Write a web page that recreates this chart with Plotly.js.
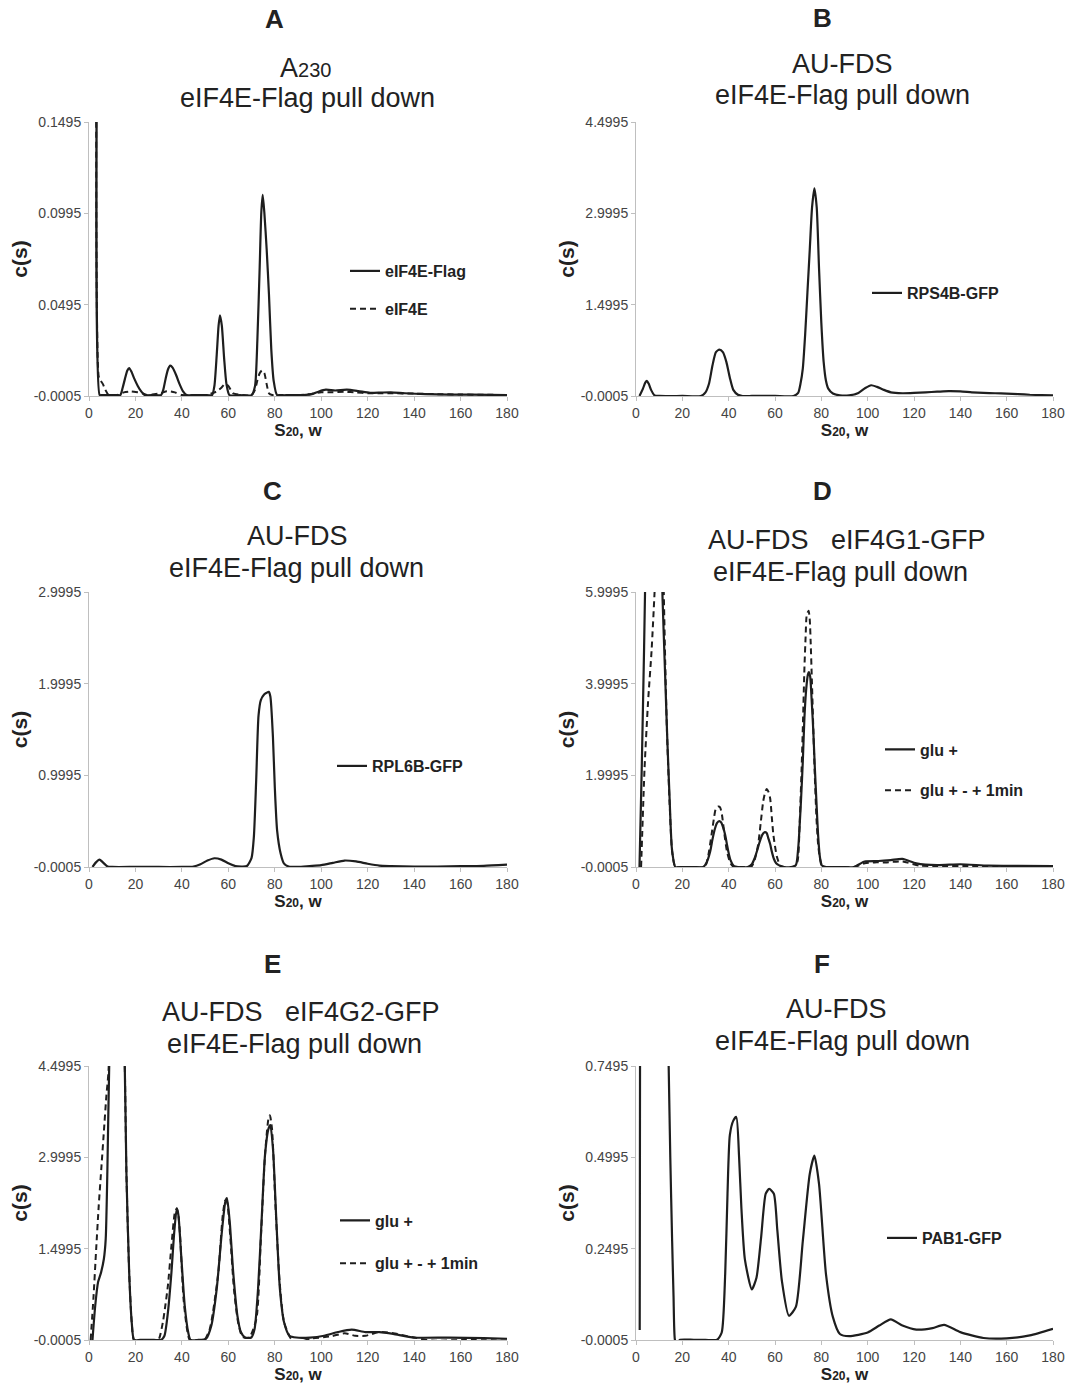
<!DOCTYPE html>
<html>
<head>
<meta charset="utf-8">
<script src="https://cdn.plot.ly/plotly-3.0.1.min.js"></script>
<style>html,body{margin:0;padding:0;background:#fff}</style>
</head>
<body>
<div id="chart" style="width:1079px;height:1385px"></div>
<script>
// ---------- DATA ----------
var xTickLabels = ['0','20','40','60','80','100','120','140','160','180'];

// Panel A (A230)
var aYTickLabels = ['-0.0005','0.0495','0.0995','0.1495'];
var aX_flag = [2,4,4.6,5.5,8,12,13.5,14.5,15.5,16.5,17.3,18.2,19.5,21,22.5,24,28,31,32,33,34,35,36,37.5,39,40.5,42,46,50,53,54,55,55.8,56.4,57.2,58.2,59.2,60.5,65,70,71.5,72.5,73.5,74.2,74.8,75.5,76.5,77.5,78.5,79.5,81,85,92,96,99,102,106,111,116,121,126,130,136,145,155,165,180];
var aY_flag = [0.5,0.4,0,0,0,0,0,0.004,0.009,0.0135,0.0148,0.013,0.009,0.005,0.002,0,0,0,0.003,0.009,0.014,0.0161,0.015,0.011,0.006,0.002,0,0,0,0,0.005,0.022,0.038,0.0437,0.038,0.02,0.006,0,0,0,0.005,0.03,0.07,0.1,0.1096,0.1,0.08,0.055,0.025,0.008,0,0,0,0.0005,0.002,0.003,0.0025,0.003,0.0022,0.0012,0.0014,0.0015,0.001,0.0005,0.0003,0.0002,0];
var aX_e = [2,3.2,4.2,5,6,7,8.5,12,15,18,21,23,25,28,31,33,35,37,40,45,50,53,55,57,58.5,60,62,66,70,71.5,72.5,73.5,74.5,75.5,76.5,77.5,79,82,90,95,100,105,110,115,120,125,130,140,150,160,170,180];
var aY_e = [0.5,0.4,0.01,0.008,0.006,0.003,0,0,0.0015,0.002,0.0015,0.001,0,0.0005,0.001,0.002,0.002,0.0015,0,0,0,0.001,0.002,0.004,0.006,0.005,0.001,0,0,0.003,0.008,0.012,0.0135,0.012,0.006,0.001,0,0,0,0.0005,0.0015,0.0015,0.0018,0.0015,0.001,0.001,0.001,0.0008,0.0005,0.0003,0.0002,0];

// Panel B (RPS4B-GFP)
var bYTickLabels = ['-0.0005','1.4995','2.9995','4.4995'];
var bX = [1.5,3,4,4.7,5.5,6.5,8,10,20,28,30,31.5,33,34.5,36,37.5,39,40.5,42,44,46,50,60,68,70,71,72,73,74,75,76,77,78,79,80,81,82,83,85,88,92,96,99,101.5,104,107,110,115,120,125,130,135,140,145,150,155,160,165,170,180];
var bY = [0,0.12,0.22,0.247,0.2,0.1,0.01,0,0,0,0.06,0.2,0.5,0.72,0.76,0.72,0.56,0.3,0.1,0.02,0,0,0,0,0.05,0.2,0.45,1.0,1.7,2.4,3.1,3.41,3.1,2.1,1.2,0.56,0.25,0.12,0.04,0.01,0.01,0.05,0.13,0.176,0.15,0.1,0.06,0.045,0.05,0.06,0.07,0.08,0.075,0.06,0.05,0.045,0.04,0.03,0.02,0.01];

// Panel C (RPL6B-GFP)
var cYTickLabels = ['-0.0005','0.9995','1.9995','2.9995'];
var cX = [1.5,3,4.5,6,8,10,20,30,40,45,48,51,54,57,60,63,66,68,70,71,72,73,74,75.4,76.5,77.4,78.1,79.2,80,81,82.5,84,86,90,95,100,105,110,115,120,125,130,140,150,160,170,180];
var cY = [0,0.05,0.08,0.05,0.005,0,0,0,0,0.005,0.03,0.07,0.095,0.08,0.04,0.01,0.005,0.01,0.1,0.33,0.95,1.65,1.82,1.88,1.9,1.91,1.86,1.42,0.875,0.4,0.15,0.036,0.005,0,0.01,0.02,0.045,0.07,0.06,0.035,0.015,0.01,0.005,0.005,0.008,0.012,0.025];

// Panel D (eIF4G1-GFP)
var dYTickLabels = ['-0.0005','1.9995','3.9995','5.9995'];
var dX_glu = [1.5,2.5,3.5,4.5,6,8,10,11.5,12.5,13.5,14.5,15.5,17,20,25,29,30.5,32,33,34.1,35,35.9,36.8,37.5,38.5,39.3,40.1,40.8,42.3,44,48.2,50,51.2,52.3,53.4,54.5,55.6,56.4,57.1,57.9,58.6,59.5,60.5,61.6,63.8,67,69,70,71.2,72,72.7,73.5,74.2,74.6,75.2,75.7,76.5,77.2,78,78.6,79.3,80.1,82,88,94,98.7,104.6,110,115,121,130,140,152,165,180];
var dY_glu = [0,2.2,4.8,7.5,9,9.5,8.5,5.8,4.3,2.8,1.5,0.4,0,0,0,0,0.1,0.33,0.6,0.84,0.96,1.0,0.97,0.88,0.7,0.48,0.28,0.15,0.02,0,0,0.06,0.19,0.36,0.55,0.7,0.76,0.74,0.63,0.5,0.34,0.18,0.08,0.04,0,0,0.04,0.4,1.43,2.3,3.25,3.9,4.2,4.25,4.15,3.76,3.0,2.16,1.3,0.7,0.25,0.04,0,0,0,0.12,0.13,0.15,0.175,0.08,0.04,0.06,0.03,0.025,0.02];
var dX_1min = [2.2,3.7,5.2,6.7,8.2,9.5,11,11.9,12.6,13.4,14.5,15.6,17,20,25,29.7,31,32.6,33.6,34.5,35.6,36.3,37.1,38.2,39.3,40.8,42.3,45,49.7,51.2,52.7,53.8,54.9,55.7,56.4,57.1,57.9,58.6,59.3,60.8,62.3,64,68,69.7,70.6,71.5,72.1,72.7,73.2,73.7,74.5,75.0,75.4,75.9,76.4,77.1,77.9,78.6,79.4,80.6,83,88,94,98.7,103,107.6,115,122.4,130,145,160,180];
var dY_1min = [0,2.16,3.6,4.7,6.2,8,8,6.2,4.5,2.9,1.4,0.33,0,0,0,0,0.2,0.7,1.05,1.28,1.32,1.3,1.14,0.7,0.33,0.08,0,0,0,0.15,0.48,0.95,1.43,1.62,1.70,1.65,1.50,1.1,0.70,0.23,0.03,0,0,0.12,0.9,2.16,3.2,4.34,5.0,5.5,5.59,5.4,4.9,4.1,3.25,2.1,1.06,0.5,0.19,0,0,0,0,0.08,0.1,0.1,0.12,0.03,0.02,0.02,0.015,0.01];

// Panel E (eIF4G2-GFP)
var eYTickLabels = ['-0.0005','1.4995','2.9995','4.4995'];
var eX_glu = [1.5,2.7,3.9,5.2,6.4,7.2,7.9,8.7,10,12,14,15.4,16.1,17.3,18.4,19.4,22,28,31,32.5,34,35.5,36.7,37.8,38.5,39.7,41.2,42.7,43.7,47,50.4,52.7,55,57.2,58.7,59.4,60.6,62.1,63.9,65.4,67.2,69.9,71.3,72.8,74.3,75.8,77.3,78.1,79.3,80.7,82.2,84,86.3,89.3,95.2,101.2,107.2,113.1,119.1,125.1,131,140,155,170,180];
var eY_glu = [0,0.57,0.95,1.11,1.33,1.66,2.76,4.5,6,7,6,4.5,2.76,1.11,0.29,0,0,0,0,0.07,0.46,1.11,1.77,2.16,2.05,1.39,0.57,0.13,0,0,0.02,0.24,0.84,1.77,2.27,2.33,1.94,1.11,0.4,0.13,0.04,0.04,0.18,0.84,1.94,3.04,3.47,3.53,3.1,1.94,0.84,0.29,0.07,0.04,0.04,0.07,0.13,0.17,0.13,0.13,0.1,0.04,0.04,0.03,0.02];
var eX_1min = [0.7,1.9,3.1,4.2,5.4,6.4,7.5,8.4,9.5,12,14,15.4,16.1,17.3,18.4,19.4,22,28,29.9,31.8,33,34,35.5,37,37.8,38.5,39.3,40.7,42.2,43.4,47,49.7,52,53.4,55.7,57.6,58.7,59.4,60.9,62.4,64.2,66.1,69,72.1,74,75.8,77.3,77.9,78.8,80.3,82.1,84,87,89.9,95.2,104.2,110.1,114.6,119.1,125.1,131,140,147.5,162.4,180];
var eY_1min = [0,0.68,1.5,2.21,2.87,3.42,4.02,4.41,6,7,6,4.5,2.76,1.11,0.29,0,0,0,0,0.29,0.6,0.9,1.55,2.1,2.16,2.05,1.66,0.68,0.18,0,0,0,0.18,0.46,1.11,2.05,2.29,2.27,1.66,0.84,0.29,0.05,0.04,0.35,1.66,3.04,3.64,3.69,3.47,2.21,0.95,0.29,0.02,-0.04,0.02,0.06,0.11,0.07,0.07,0.13,0.11,0.04,-0.01,0.0,-0.01];

// Panel F (PAB1-GFP)
var fYTickLabels = ['-0.0005','0.2495','0.4995','0.7495'];
var fX = [1.6,1.75,2.5,8,13,13.5,14.1,14.8,15.6,16.2,16.8,17.5,19,25,30,35,37,38.5,39.5,40.5,42,43.3,44.5,45.5,47,50,52,54,56,57.5,59.5,61,63,66,69,72,75,77,79,82,85,88,92,100,105,110,115,121,128,133,140,150,160,170,180];
var fY = [0.027,0.8,1.2,1.6,1.1,0.95,0.75,0.5,0.27,0.12,0,-0.01,0,0,0,0,0.02,0.18,0.4,0.56,0.6,0.61,0.5,0.36,0.22,0.138,0.17,0.28,0.4,0.413,0.40,0.3,0.16,0.066,0.09,0.27,0.454,0.504,0.427,0.18,0.062,0.016,0.01,0.02,0.039,0.056,0.039,0.028,0.032,0.041,0.021,0.005,0.004,0.012,0.03];

// ---------- LAYOUT ----------
var W = 1079, H = 1385;
var FONT = '"Liberation Sans", Arial, Helvetica, sans-serif';
function px(v){ return v / W; }
function py(v){ return 1 - v / H; }

var colL = [89, 507], colR = [636, 1053];
var rows = [[122, 396], [592, 867], [1066, 1340]];
var LINE = '#1e1e1e';

function solid(x, y, n, name, leg){
  return {type:'scatter', mode:'lines', x:x, y:y, name:name, xaxis:'x'+n, yaxis:'y'+n,
    legend:leg, legendgroup:name+n, line:{color:LINE, width:2.2, shape:'spline', smoothing:0.6}};
}
function dashed(x, y, n, name, leg){
  return {type:'scatter', mode:'lines', x:x, y:y, name:name, xaxis:'x'+n, yaxis:'y'+n,
    legend:leg, legendgroup:name+n, line:{color:LINE, width:2, dash:'6px,4px', shape:'spline', smoothing:0.6}};
}

var traces = [
  solid(aX_flag, aY_flag, 1, 'eIF4E-Flag', 'legend'),
  dashed(aX_e, aY_e, 1, 'eIF4E', 'legend'),
  solid(bX, bY, 2, 'RPS4B-GFP', 'legend2'),
  solid(cX, cY, 3, 'RPL6B-GFP', 'legend3'),
  solid(dX_glu, dY_glu, 4, 'glu +', 'legend4'),
  dashed(dX_1min, dY_1min, 4, 'glu + - + 1min', 'legend4'),
  solid(eX_glu, eY_glu, 5, 'glu +', 'legend5'),
  dashed(eX_1min, eY_1min, 5, 'glu + - + 1min', 'legend5'),
  solid(fX, fY, 6, 'PAB1-GFP', 'legend6')
];
traces.forEach(function(t){ if(t.xaxis==='x1'){t.xaxis='x'; t.yaxis='y';} });

var tickFont = {family:FONT, size:14, color:'#444'};
var AXC = '#bfbfbf';
function xAxis(col, row, anchor){
  return {domain:[px(col[0]), px(col[1])], anchor:anchor, range:[0,180],
    tickmode:'array', tickvals:xTickLabels.map(Number), ticktext:xTickLabels,
    showline:true, linecolor:AXC, linewidth:1, ticks:'outside', ticklen:4, tickcolor:AXC,
    showgrid:false, zeroline:false, tickfont:tickFont, fixedrange:true,
    title:{text:'S<span style="font-size:12px">20</span>, w', font:{family:FONT, size:17, color:'#222', weight:'bold'}, standoff:3}};
}
function yAxis(row, labels, anchor){
  var vals = labels.map(Number);
  return {domain:[py(row[1]), py(row[0])], anchor:anchor, range:[vals[0], vals[vals.length-1]],
    tickmode:'array', tickvals:vals, ticktext:labels,
    showline:true, linecolor:AXC, linewidth:1, ticks:'outside', ticklen:4, tickcolor:AXC,
    showgrid:false, zeroline:false, tickfont:tickFont, fixedrange:true,
    title:{text:'c(s)', font:{family:FONT, size:21, color:'#222', weight:'bold'}, standoff:0}};
}

function ann(text, x, y, size, bold){
  return {text:text, x:px(x), y:py(y), xref:'paper', yref:'paper', showarrow:false,
    xanchor:'center', yanchor:'middle',
    font:{family:FONT, size:size, color:'#222', weight: bold ? 'bold' : 'normal'}};
}
var TS = 27, LS = 26;
var annotations = [
  ann('A', 274, 19, LS, true), ann('B', 822, 18, LS, true),
  ann('C', 272, 491, LS, true), ann('D', 822, 491, LS, true),
  ann('E', 272, 964, LS, true), ann('F', 822, 964, LS, true),
  ann('A<span style="font-size:20px">230</span>', 305, 68, TS, false),
  ann('eIF4E-Flag pull down', 307, 98, TS, false),
  ann('AU-FDS', 842, 64, TS, false),
  ann('eIF4E-Flag pull down', 842, 95, TS, false),
  ann('AU-FDS', 297, 536, TS, false),
  ann('eIF4E-Flag pull down', 296, 568, TS, false),
  ann('AU-FDS   eIF4G1-GFP', 847, 540, TS, false),
  ann('eIF4E-Flag pull down', 840, 572, TS, false),
  ann('AU-FDS   eIF4G2-GFP', 301, 1012, TS, false),
  ann('eIF4E-Flag pull down', 294, 1044, TS, false),
  ann('AU-FDS', 836, 1009, TS, false),
  ann('eIF4E-Flag pull down', 842, 1041, TS, false)
];

var legFont = {family:FONT, size:16, color:'#222', weight:'bold'};
function leg(x, y, gap){
  return {x:px(x), y:py(y), xanchor:'left', yanchor:'middle', bgcolor:'rgba(0,0,0,0)',
    borderwidth:0, font:legFont, tracegroupgap:gap, itemwidth:30, itemclick:false, itemdoubleclick:false};
}

var layout = {
  width:W, height:H, margin:{l:0, r:0, t:0, b:0},
  paper_bgcolor:'#fff', plot_bgcolor:'#fff', font:{family:FONT, color:'#222'},
  showlegend:true,
  xaxis:  xAxis(colL, rows[0], 'y'),  yaxis:  yAxis(rows[0], aYTickLabels, 'x'),
  xaxis2: xAxis(colR, rows[0], 'y2'), yaxis2: yAxis(rows[0], bYTickLabels, 'x2'),
  xaxis3: xAxis(colL, rows[1], 'y3'), yaxis3: yAxis(rows[1], cYTickLabels, 'x3'),
  xaxis4: xAxis(colR, rows[1], 'y4'), yaxis4: yAxis(rows[1], dYTickLabels, 'x4'),
  xaxis5: xAxis(colL, rows[2], 'y5'), yaxis5: yAxis(rows[2], eYTickLabels, 'x5'),
  xaxis6: xAxis(colR, rows[2], 'y6'), yaxis6: yAxis(rows[2], fYTickLabels, 'x6'),
  legend:  leg(345, 290, 14),
  legend2: leg(867, 293, 0),
  legend3: leg(332, 766, 0),
  legend4: leg(880, 770, 17),
  legend5: leg(335, 1242, 19),
  legend6: leg(882, 1238, 0),
  annotations: annotations
};

Plotly.newPlot('chart', traces, layout, {staticPlot:true, displayModeBar:false});
</script>
</body>
</html>
